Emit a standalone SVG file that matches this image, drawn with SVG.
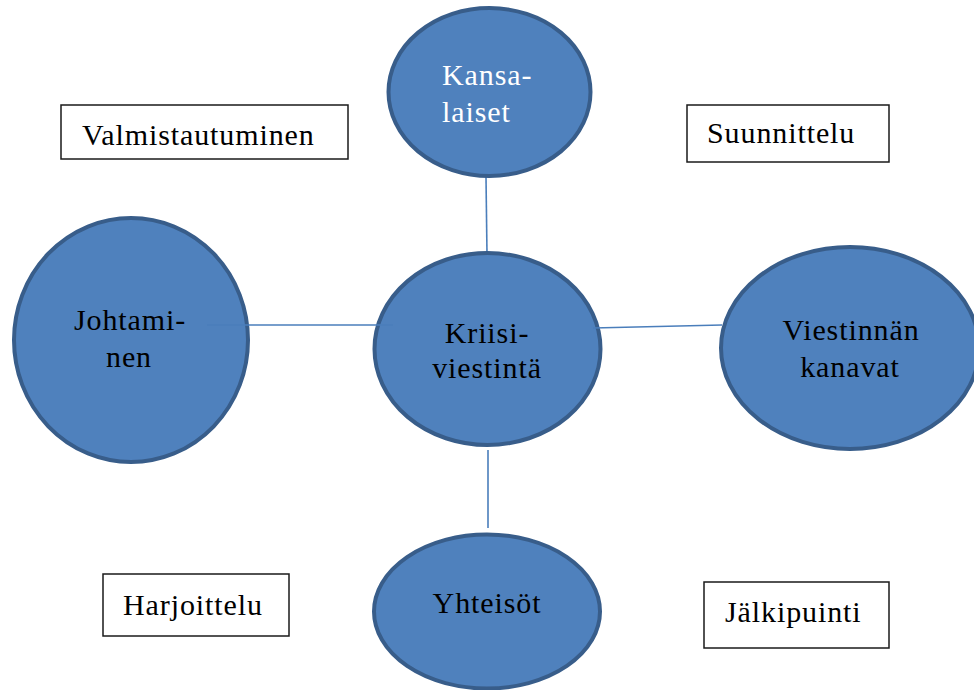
<svg xmlns="http://www.w3.org/2000/svg" width="974" height="690" viewBox="0 0 974 690">
<style>
.node ellipse{fill:#4f81bd;stroke:#385d8a;stroke-width:4}
.box rect{fill:#ffffff;stroke:#1a1a1a;stroke-width:1.5}
text{font-family:"Liberation Serif","Times New Roman",serif;font-size:30px;fill:#000;letter-spacing:0.9px}
.c{text-anchor:middle}
.w{fill:#ffffff}
.conn line{stroke:#4a7ebb;stroke-width:1.6}
</style>
<rect width="974" height="690" fill="#ffffff"/>
<g id="connectors" class="conn">
<line x1="486" y1="177" x2="487" y2="255"/>
<line x1="488" y1="450" x2="488" y2="528"/>
</g>
<g id="johtaminen" class="node">
<ellipse cx="131" cy="340" rx="117" ry="122"/>
<text class="c" x="130" y="330">Johtami-</text>
<text class="c" x="129" y="367">nen</text>
</g>
<g id="viestinnan-kanavat" class="node">
<ellipse cx="850" cy="348" rx="129" ry="101"/>
<text class="c" x="851" y="340">Viestinnän</text>
<text class="c" x="850" y="377">kanavat</text>
</g>
<g id="kriisiviestinta" class="node">
<ellipse cx="487.5" cy="349" rx="113" ry="96"/>
<text class="c" x="487" y="343">Kriisi-</text>
<text class="c" x="487" y="378">viestintä</text>
</g>
<g id="connectors-h" class="conn">
<line x1="207" y1="325" x2="393" y2="325"/>
<line x1="593" y1="328" x2="722" y2="325"/>
</g>
<g id="kansalaiset" class="node">
<ellipse cx="489.5" cy="92" rx="101" ry="84"/>
<text class="w" x="442" y="85">Kansa-</text>
<text class="w" x="442" y="122">laiset</text>
</g>
<g id="yhteisot" class="node">
<ellipse cx="487" cy="611.5" rx="113" ry="77"/>
<text class="c" x="487" y="613">Yhteisöt</text>
</g>
<g id="valmistautuminen" class="box">
<rect x="61" y="105" width="287" height="54"/>
<text x="82" y="145">Valmistautuminen</text>
</g>
<g id="suunnittelu" class="box">
<rect x="687" y="105" width="202" height="57"/>
<text x="707" y="143">Suunnittelu</text>
</g>
<g id="harjoittelu" class="box">
<rect x="103" y="574" width="186" height="62"/>
<text x="123" y="615">Harjoittelu</text>
</g>
<g id="jalkipuinti" class="box">
<rect x="704" y="582" width="185" height="66"/>
<text x="725" y="622">Jälkipuinti</text>
</g>
</svg>
